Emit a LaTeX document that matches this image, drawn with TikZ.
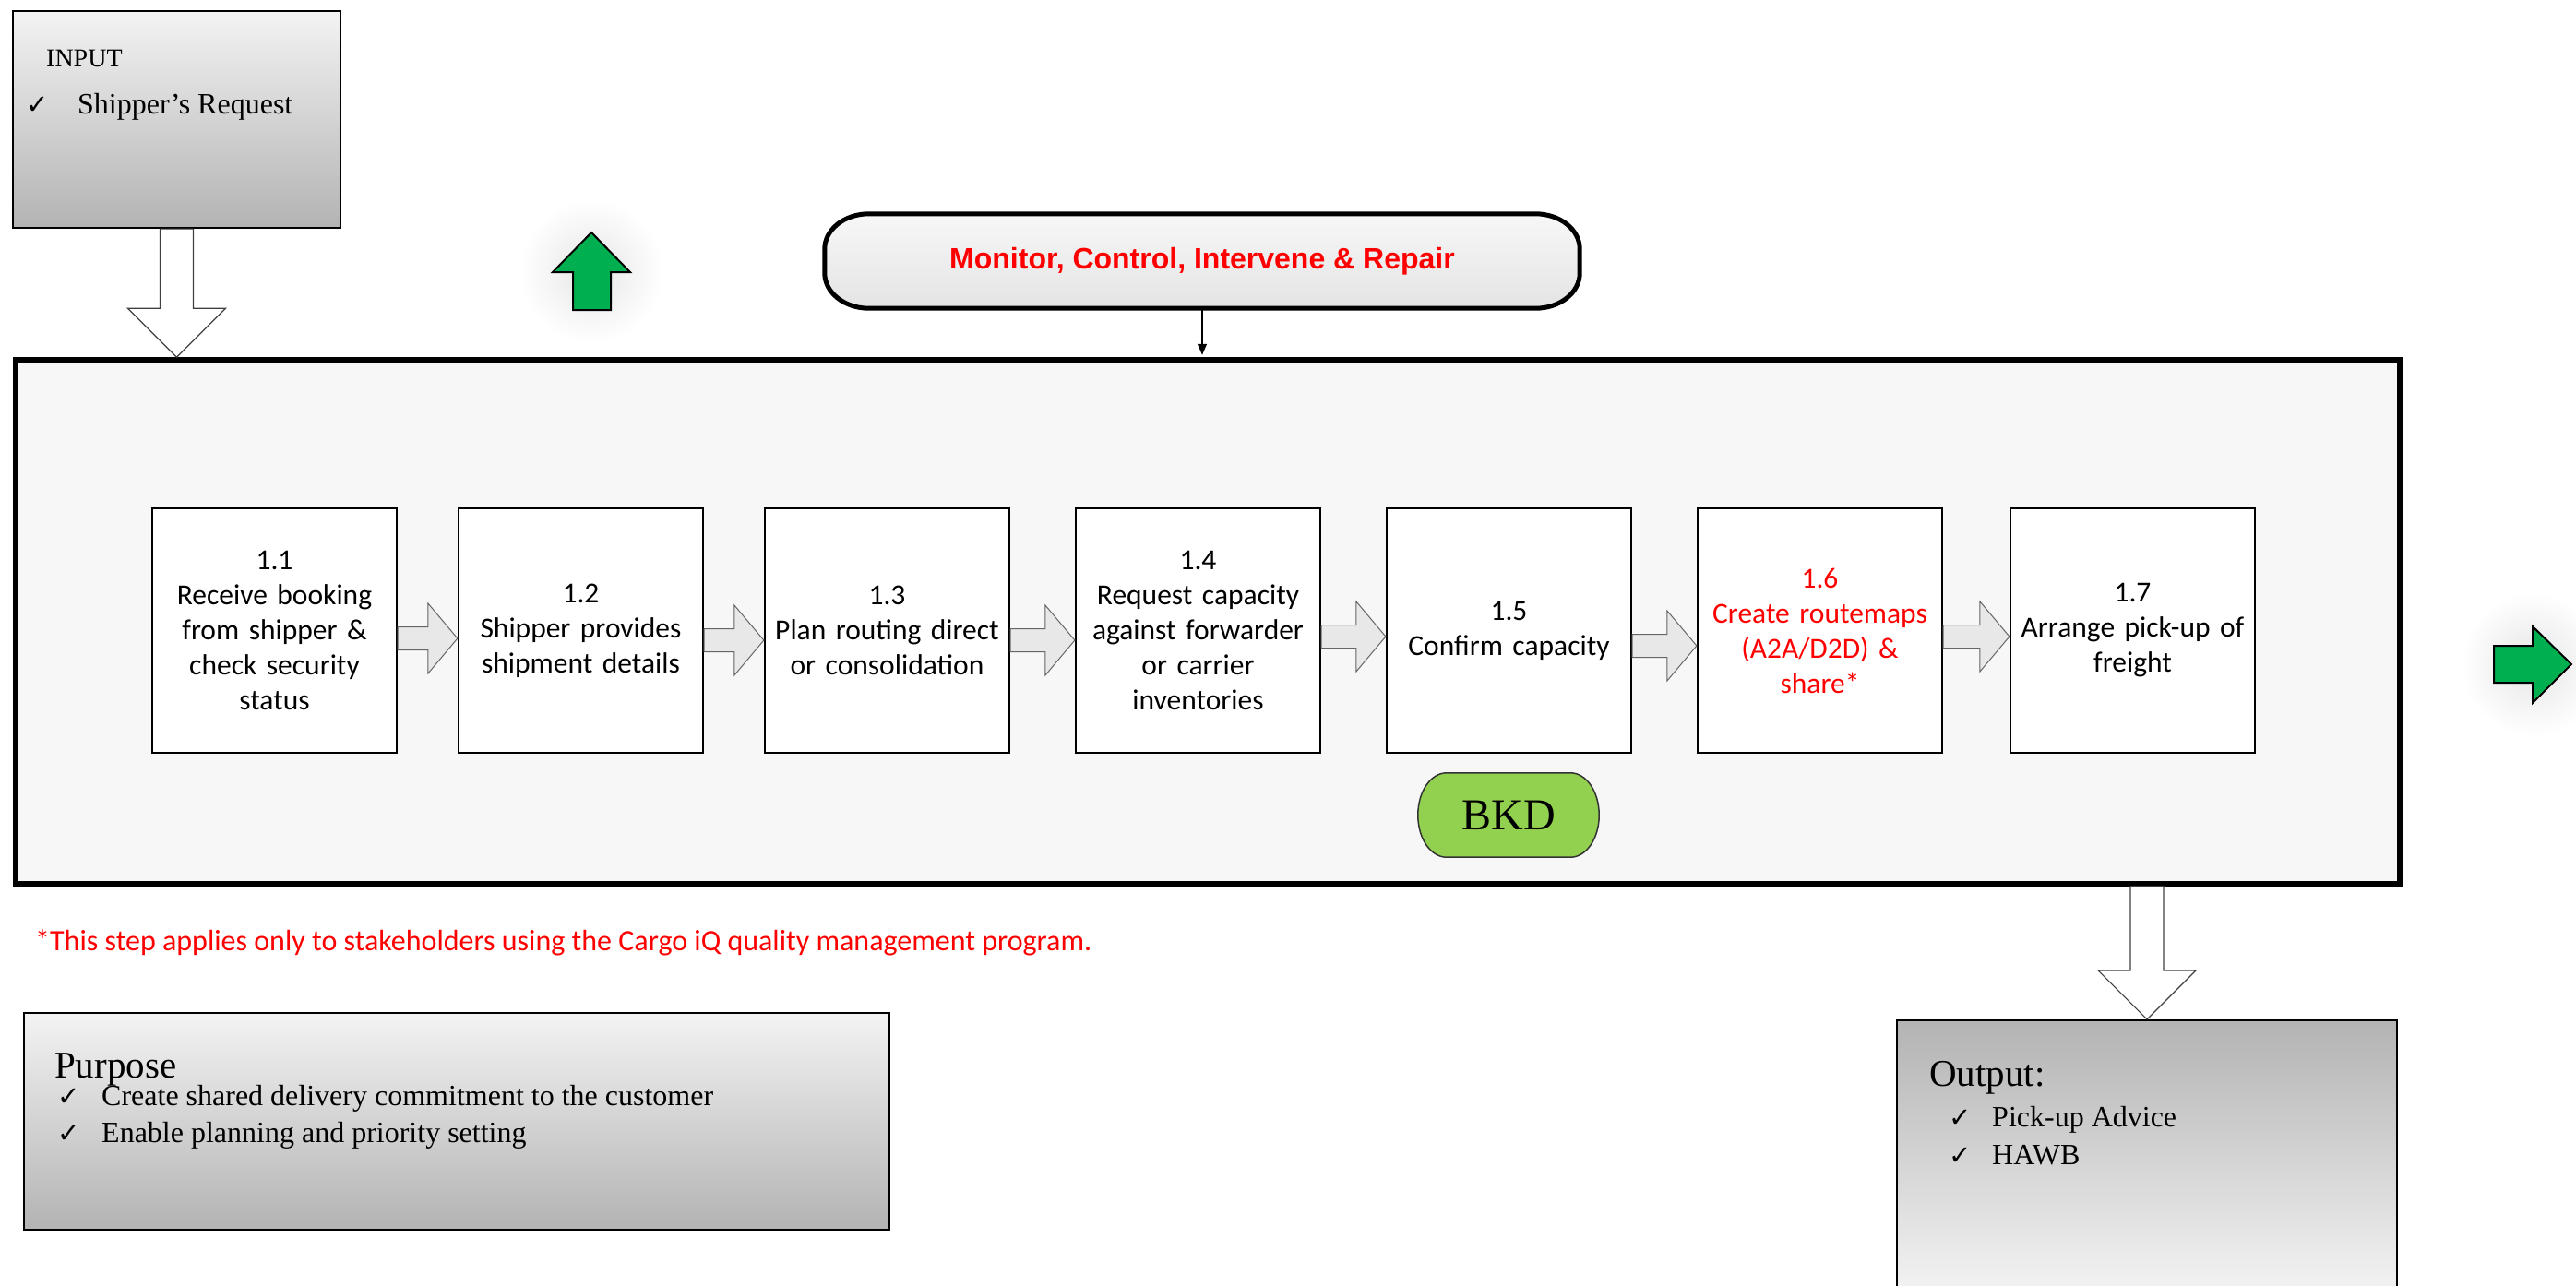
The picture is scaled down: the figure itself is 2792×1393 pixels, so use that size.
\documentclass[tikz,border=0pt]{standalone}
\usepackage{fontspec}
\setmainfont{Liberation Serif}
\newfontfamily\stepfont{Carlito}
\newfontfamily\headfont{Liberation Sans}
\newfontfamily\tickfont{DejaVu Sans}
\usetikzlibrary{calc,arrows.meta}

\definecolor{arrowgreen}{HTML}{00B050}
\definecolor{bkdgreen}{HTML}{92D050}
\definecolor{panel}{HTML}{F7F7F7}
\definecolor{greylight}{HTML}{F3F3F3}
\definecolor{greydark}{HTML}{B3B3B3}
\definecolor{flowgrey}{HTML}{E8E8E8}
\definecolor{montop}{HTML}{F7F7F7}
\definecolor{monbot}{HTML}{E4E4E4}

% outline with elliptical corners around an (empty) node
\newcommand{\ovalpath}[4]{% #1 node, #2 x radius, #3 y radius, #4 style
  \path[#4] ($(#1.north west)+(#2,0)$) -- ($(#1.north east)+(-#2,0)$)
    arc[start angle=90,end angle=0,x radius=#2pt,y radius=#3pt]
    -- ($(#1.south east)+(0,-#3)$)
    arc[start angle=0,end angle=-90,x radius=#2pt,y radius=#3pt]
    -- ($(#1.south west)+(#2,0)$)
    arc[start angle=270,end angle=180,x radius=#2pt,y radius=#3pt]
    -- ($(#1.north west)+(0,#3)$)
    arc[start angle=180,end angle=90,x radius=#2pt,y radius=#3pt]
    -- cycle;}

% grey block arrow from one step box to the next, #3 = vertical offset
\newcommand{\stepflow}[3]{%
  \draw[flowarrow] ($(#1.east)+(0,#3-12.5)$) -- ($(#2.west)+(-32,#3-12.5)$)
    -- ($(#2.west)+(-32,#3-38)$) -- ($(#2.west)+(0,#3)$)
    -- ($(#2.west)+(-32,#3+38)$) -- ($(#2.west)+(-32,#3+12.5)$)
    -- ($(#1.east)+(0,#3+12.5)$) -- cycle;}

% white downward block arrow, #1 = top centre, #2 = tip
\newcommand{\downflow}[2]{%
  \draw[whitearrow] ($(#1)+(-18,0)$) -- ($(#1)+(18,0)$) -- ($(#2)+(18,-53)$)
    -- ($(#2)+(53,-53)$) -- (#2) -- ($(#2)+(-53,-53)$) -- ($(#2)+(-18,-53)$) -- cycle;}

\tikzset{
  stepbox/.style={draw=black, line width=2.2pt, fill=white,
    minimum width=265pt, minimum height=265pt, inner sep=0pt,
    text width=258pt, align=center, font=\stepfont\fontsize{31.5}{38}\selectfont},
  flowarrow/.style={draw=black!60, line width=1pt, fill=flowgrey},
  whitearrow/.style={draw=black!75, line width=1.2pt, fill=white},
  greenarrow/.style={draw=black, line width=2pt, fill=arrowgreen},
  glow/.style={inner color=black!10, outer color=white},
  infobox/.style={draw=black, line width=2.2pt, inner sep=0pt},
  plain/.style={anchor=base west, inner sep=0pt},
  tick/.style={anchor=base west, inner sep=0pt, font=\tickfont\fontsize{29}{29}\selectfont},
}

\begin{document}
\begin{tikzpicture}[x=1pt,y=-1pt]
\clip (0,0) rectangle (2792,1393);
\useasboundingbox (0,0) rectangle (2792,1393);
\fill[white] (0,0) rectangle (2792,1393);

% input
\node[infobox, top color=greylight, bottom color=greydark,
  minimum width=355pt, minimum height=235pt] (input) at (191.5,129.5) {};
\node[plain, font=\fontsize{28}{34}\selectfont] (inputtitle) at (50,72) {INPUT};
\node[tick] (inputtick) at (28,123) {✓};
\node[plain, font=\fontsize{32}{38}\selectfont] (inputitem) at (84,123) {Shipper’s Request};

% process frame
\node[draw=black, line width=5.5pt, fill=panel, minimum width=2584pt,
  minimum height=568pt, inner sep=0pt] (main) at (1309,674) {};

\downflow{input.south}{input.south |- main.north}

% monitor
\node[minimum width=818pt, minimum height=102pt, inner sep=0pt] (mon) at (1303,283) {};
\ovalpath{mon}{48}{38}{draw=black, line width=5pt, top color=montop, bottom color=monbot}
\node[font=\headfont\bfseries\fontsize{32}{38}\selectfont, text=red] (montext) at (mon.center)
  {Monitor, Control, Intervene \& Repair};
\draw[line width=1.3pt, -{Triangle[length=12pt,width=10pt]}, shorten >=2.5pt]
  (mon.south) -- (mon.south |- main.north);

% green direction arrows
\shade[glow] (641,294) circle (78pt);
\draw[greenarrow] (641,252) -- (683,295) -- (662,295) -- (662,336) -- (621,336)
  -- (621,295) -- (599,295) -- cycle;
\shade[glow] (2745,720) circle (78pt);
\draw[greenarrow] (2787,720) -- (2745,762) -- (2745,740) -- (2703,740) -- (2703,700)
  -- (2745,700) -- (2745,679) -- cycle;

% steps
\node[stepbox] (s1) at (297.5,683.5) {1.1\\Receive booking\\from shipper \&\\check security\\status};
\node[stepbox] (s2) at (629.5,683.5) {1.2\\Shipper provides\\shipment details};
\node[stepbox] (s3) at (961.5,683.5) {1.3\\Plan routing direct\\or consolidation};
\node[stepbox] (s4) at (1298.5,683.5) {1.4\\Request capacity\\against forwarder\\or carrier\\inventories};
\node[stepbox] (s5) at (1635.5,683.5) {1.5\\Confirm capacity};
\node[stepbox, text=red] (s6) at (1972.5,683.5) {1.6\\Create routemaps\\(A2A/D2D) \&\\share*};
\node[stepbox] (s7) at (2311.5,683.5) {1.7\\Arrange pick-up of\\freight};

\stepflow{s1}{s2}{8.5}
\stepflow{s2}{s3}{10.5}
\stepflow{s3}{s4}{10.5}
\stepflow{s4}{s5}{6.5}
\stepflow{s5}{s6}{16.5}
\stepflow{s6}{s7}{6.5}

% milestone
\node[minimum width=196pt, minimum height=91pt, inner sep=0pt] (bkd) at (1635,883.5) {};
\ovalpath{bkd}{31}{45.5}{draw=black!80, line width=1.5pt, fill=bkdgreen}
\node[font=\fontsize{48}{52}\selectfont] (bkdtext) at (bkd.center) {BKD};

% footnote
\node[plain, text=red, font=\stepfont\fontsize{32}{38}\selectfont] (note) at (38,1030)
  {*This step applies only to stakeholders using the Cargo iQ quality management program.};

% purpose
\node[infobox, top color=greylight, bottom color=greydark,
  minimum width=938pt, minimum height=235pt] (purpose) at (495,1215.5) {};
\node[plain, font=\fontsize{41}{48}\selectfont] (purposetitle) at (59,1168) {Purpose};
\node[tick] (ptick1) at (62,1198) {✓};
\node[plain, font=\fontsize{32}{38}\selectfont] (pitem1) at (110,1198) {Create shared delivery commitment to the customer};
\node[tick] (ptick2) at (62,1238) {✓};
\node[plain, font=\fontsize{32}{38}\selectfont] (pitem2) at (110,1238) {Enable planning and priority setting};

% output
\node[infobox, top color=greydark, bottom color=greylight,
  minimum width=542pt, minimum height=294pt] (output) at (2327,1253) {};
\downflow{output.north |- main.south}{output.north}
\node[plain, font=\fontsize{41}{48}\selectfont] (outputtitle) at (2091,1177) {Output:};
\node[tick] (otick1) at (2112,1221) {✓};
\node[plain, font=\fontsize{32}{38}\selectfont] (oitem1) at (2159,1221) {Pick-up Advice};
\node[tick] (otick2) at (2112,1262) {✓};
\node[plain, font=\fontsize{32}{38}\selectfont] (oitem2) at (2159,1262) {HAWB};
\end{tikzpicture}
\end{document}
